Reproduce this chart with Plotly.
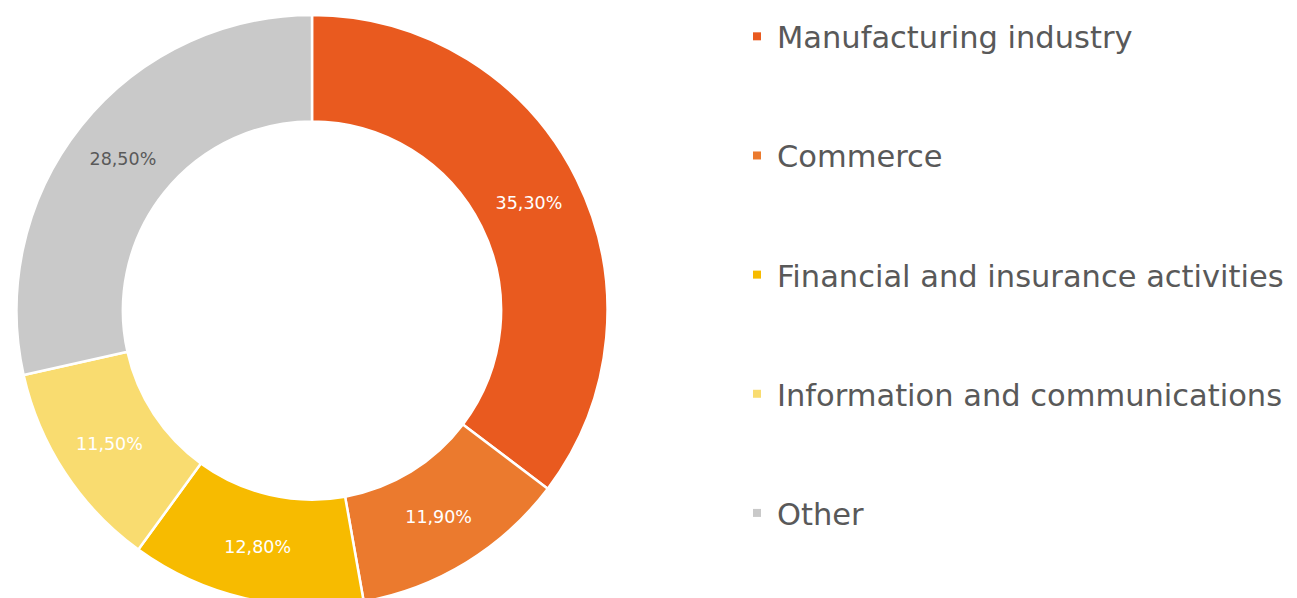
import plotly.graph_objects as go

categories = ["Manufacturing industry", "Commerce", "Financial and insurance activities",
              "Information and communications", "Other"]
shares = [35.3, 11.9, 12.8, 11.5, 28.5]
share_labels = ["35,30%", "11,90%", "12,80%", "11,50%", "28,50%"]
colors = ["#E95A1F", "#EB7A2E", "#F7BB00", "#F9DC70", "#C9C9C9"]
label_colors = ["#FFFFFF", "#FFFFFF", "#FFFFFF", "#FFFFFF", "#595959"]

FONT = "DejaVu Sans"

fig = go.Figure()
fig.add_trace(go.Pie(
    labels=categories,
    values=shares,
    text=share_labels,
    textinfo="text",
    textposition="inside",
    insidetextorientation="horizontal",
    hole=0.64,
    sort=False,
    direction="clockwise",
    rotation=0,
    marker=dict(colors=colors, line=dict(color="white", width=2.5)),
    textfont=dict(family=FONT, size=17.5, color=label_colors),
    domain=dict(x=[0, 608 / 1297], y=[0, 1]),
    showlegend=False,
    hoverinfo="label+text",
))

for i, (cat, col) in enumerate(zip(categories, colors)):
    fig.add_trace(go.Scatter(
        x=[None], y=[None], mode="markers",
        marker=dict(symbol="square", size=8, color=col),
        name=cat, legendgroup=f"g{i}", showlegend=True,
    ))

fig.update_layout(
    width=1297, height=598,
    margin=dict(l=0, r=0, t=7, b=0, autoexpand=False),
    paper_bgcolor="white", plot_bgcolor="white",
    xaxis=dict(visible=False), yaxis=dict(visible=False),
    legend=dict(
        x=729 / 1297, xanchor="left",
        yref="container", y=1 - 2 / 598, yanchor="top",
        maxheight=1,
        font=dict(family=FONT, size=30.5, color="#595959"),
        tracegroupgap=76.5, traceorder="grouped",
        bgcolor="rgba(0,0,0,0)",
    ),
)

fig.write_html("out.html")
